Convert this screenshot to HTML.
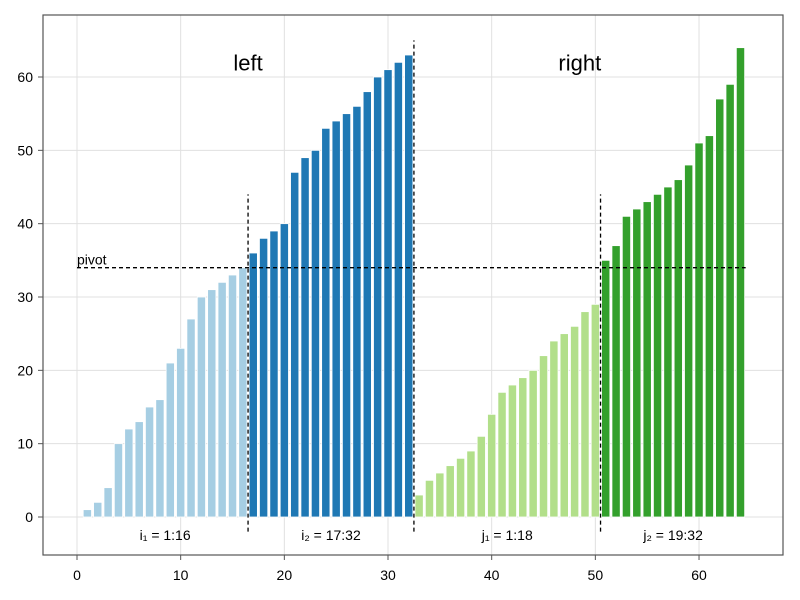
<!DOCTYPE html>
<html><head><meta charset="utf-8"><style>
body{margin:0;background:#fff}
svg{display:block;font-family:"Liberation Sans","DejaVu Sans",sans-serif}
</style></head><body>
<svg id="chart" width="800" height="600" viewBox="0 0 800 600" xmlns="http://www.w3.org/2000/svg">
<g id="grid"></g>
<g id="bars"></g>
<g id="annot"></g>
<rect x="43" y="15" width="740" height="540" fill="none" stroke="#555" stroke-width="1.2"/>
<g id="axes"></g>
</svg>
<script>
const leftLow = [1,2,4,10,12,13,15,16,21,23,27,30,31,32,33,34];
const leftHigh = [36,38,39,40,47,49,50,53,54,55,56,58,60,61,62,63];
const rightLow = [3,5,6,7,8,9,11,14,17,18,19,20,22,24,25,26,28,29];
const rightHigh = [35,37,41,42,43,44,45,46,48,51,52,57,59,64];
const xTicks = [0,10,20,30,40,50,60];
const yTicks = [0,10,20,30,40,50,60];
const pivot = 34;

const NS="http://www.w3.org/2000/svg";
const X=v=>77+v*10.367;
const Y=v=>517-v*7.3333;
function mk(tag,attrs,parent){const e=document.createElementNS(NS,tag);for(const k in attrs)e.setAttribute(k,attrs[k]);parent.appendChild(e);return e;}
const grid=document.getElementById('grid'),bars=document.getElementById('bars'),annot=document.getElementById('annot'),axes=document.getElementById('axes');
xTicks.forEach(t=>{
  const l=mk('line',{x1:X(t),x2:X(t),y1:15,y2:555,stroke:'#e0e0e0','stroke-width':1},grid);
  
  
  const tk=mk('line',{x1:X(t),x2:X(t),y1:555,y2:560,stroke:'#555'},axes);
  
  
  const tx=mk('text',{x:X(t),y:580,'font-size':14,'text-anchor':'middle',fill:'#000'},axes);
  tx.textContent=t;
  
  
});
yTicks.forEach(t=>{
  const l=mk('line',{x1:43,x2:783,y1:Y(t),y2:Y(t),stroke:'#e0e0e0','stroke-width':1},grid);
  
  
  const tk=mk('line',{x1:38,x2:43,y1:Y(t),y2:Y(t),stroke:'#555'},axes);
  
  
  const tx=mk('text',{x:33,y:Y(t)+5,'font-size':14,'text-anchor':'end',fill:'#000'},axes);
  tx.textContent=t;
  
  
});
const groups=[[leftLow,'#a6cee3'],[leftHigh,'#1f78b4'],[rightLow,'#b2df8a'],[rightHigh,'#33a02c']];
let idx=1;
groups.forEach(([arr,c])=>{arr.forEach(v=>{
  const w=0.8*10.367;
  const r=mk('rect',{x:X(idx)-w/2,y:Y(v),width:w,height:Y(0)-Y(v),fill:c,stroke:'#fff','stroke-width':0.8},bars);
  
  
  idx++;
});});
const nL=leftLow.length+leftHigh.length, nTot=nL+rightLow.length+rightHigh.length;
const s1=leftLow.length+0.5, s2=nL+0.5, s3=nL+rightLow.length+0.5;
function dash(x1,y1,x2,y2,name){const l=mk('line',{x1,y1,x2,y2,stroke:'#000','stroke-width':1.3,'stroke-dasharray':'4,3'},annot);
  
  }
dash(X(0),Y(pivot),X(nTot+0.5),Y(pivot),'pivot-line');
dash(X(s1),Y(-2),X(s1),Y(44),'left-split-line');
dash(X(s2),Y(-2),X(s2),Y(65),'middle-split-line');
dash(X(s3),Y(-2),X(s3),Y(44),'right-split-line');
function txt(x,y,s,size,name,anchor){const t=mk('text',{x,y,'font-size':size,'text-anchor':anchor||'middle',fill:'#000'},annot);t.textContent=s;
  
  }
txt(X(0),Y(pivot)-3,'pivot',14,'pivot-label','start');
txt(X(16.5),Y(61.3)+3,'left',22,'left-title');
txt(X(48.5),Y(61.3)+3,'right',22,'right-title');
txt(X((1+leftLow.length)/2),540,'i\u2081 = 1:'+leftLow.length,14,'i1-label');
txt(X((s1+s2)/2),540,'i\u2082 = '+(leftLow.length+1)+':'+nL,14,'i2-label');
txt(X((s2+s3)/2),540,'j\u2081 = 1:'+rightLow.length,14,'j1-label');
txt(X((s3+nTot+0.5)/2),540,'j\u2082 = '+(rightLow.length+1)+':'+(rightLow.length+rightHigh.length),14,'j2-label');
</script>
</body></html>
